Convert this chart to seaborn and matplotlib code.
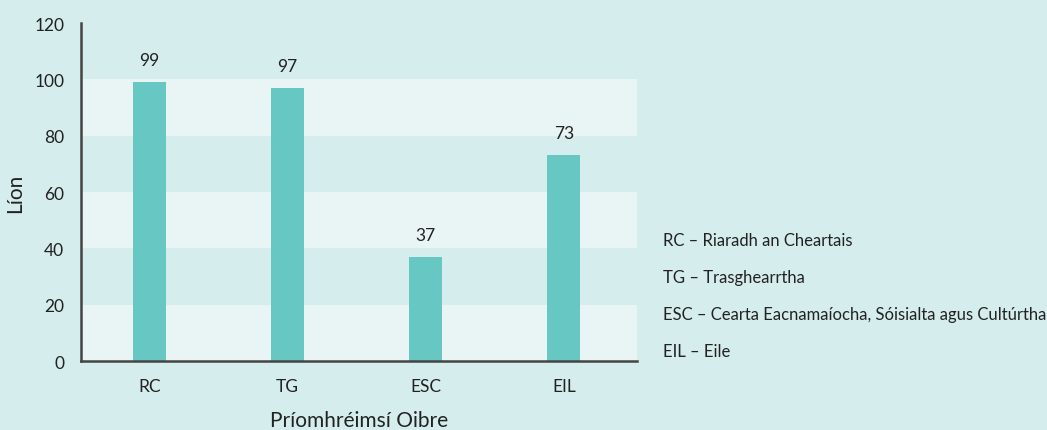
import matplotlib
matplotlib.use("Agg")
import matplotlib.pyplot as plt
import seaborn as sns
import pandas as pd

# Data
categories = ["RC", "TG", "ESC", "EIL"]
counts = [99, 97, 37, 73]
legend_lines = [
    "RC – Riaradh an Cheartais",
    "TG – Trasghearrtha",
    "ESC – Cearta Eacnamaíocha, Sóisialta agus Cultúrtha",
    "EIL – Eile",
]
y_ticks = [0, 20, 40, 60, 80, 100, 120]

bg = "#d6eded"
band = "#e9f5f5"
bar_col = "#66c7c3"
txt = "#222222"

sns.set_theme(style="white")
plt.rcParams["font.family"] = ["Lato", "DejaVu Sans"]

df = pd.DataFrame({"cat": categories, "n": counts})

fig = plt.figure(figsize=(10.47, 4.31), dpi=100, facecolor=bg)
ax = fig.add_axes([0.0774, 0.160, 0.531, 0.784])
ax.set_facecolor(bg)

# alternating bands
for lo in (0, 40, 80):
    ax.axhspan(lo, lo + 20, color=band, zorder=0, lw=0)

sns.barplot(data=df, x="cat", y="n", color=bar_col, width=0.24,
            saturation=1, linewidth=0, ax=ax, zorder=2)

for i, v in enumerate(counts):
    ax.text(i, v + 5, str(v), ha="center", va="bottom", fontsize=12.5, color=txt)

ax.set_xlim(-0.496, 3.53)
ax.set_ylim(0, 120)
ax.set_yticks(y_ticks)
ax.tick_params(axis="both", length=0, labelsize=12.5, colors=txt)
ax.tick_params(axis="x", pad=12)
ax.tick_params(axis="y", pad=12)
ax.set_xlabel("Príomhréimsí Oibre", fontsize=15, color=txt, labelpad=12)
ax.set_ylabel("Líon", fontsize=15, color=txt, labelpad=7)

for s in ("top", "right"):
    ax.spines[s].set_visible(False)
for s in ("left", "bottom"):
    ax.spines[s].set_color("#444444")
    ax.spines[s].set_linewidth(1.8)

for k, line in enumerate(legend_lines):
    fig.text(663 / 1047, 1 - (241 + 37 * k) / 431, line, fontsize=12,
             color=txt, va="center", ha="left")

fig.savefig("out.png", dpi=100, facecolor=bg)
